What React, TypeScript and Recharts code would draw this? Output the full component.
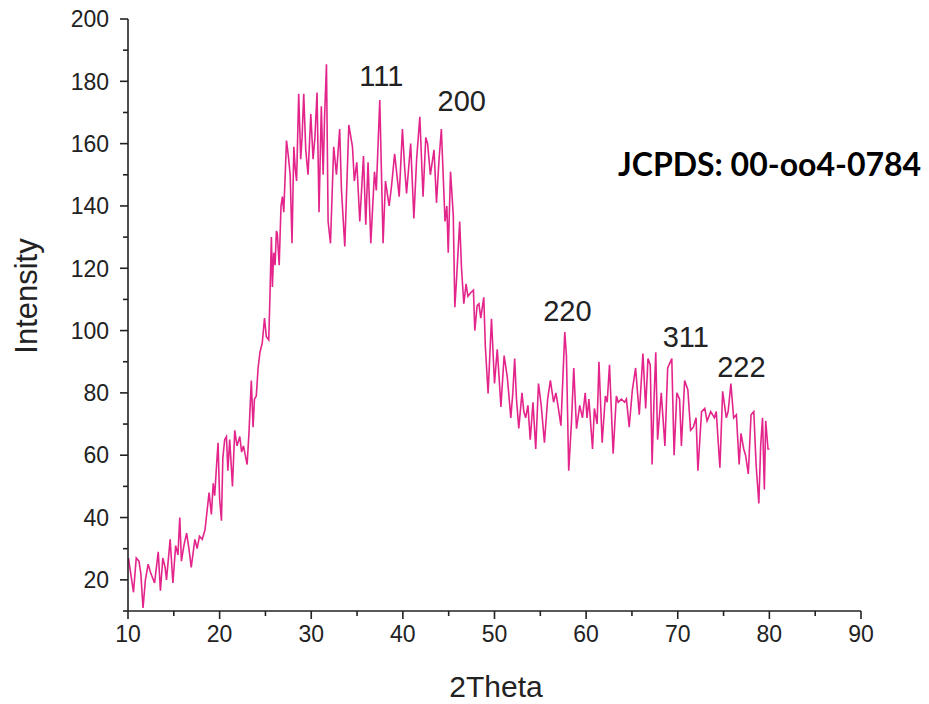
import React from 'react';
import { LineChart, Line, XAxis, YAxis, ReferenceDot, Customized } from 'recharts';

// XRD scan: diffraction angle (2θ, degrees) and measured intensity
const twoTheta = [
  10.05, 10.3, 10.6, 10.9, 11.2, 11.4, 11.64, 11.9, 12.2, 12.5, 12.9, 13.3, 13.54, 13.8, 14.05, 14.2, 14.6, 14.9,
  15.2, 15.45, 15.65, 15.83, 16.1, 16.4, 16.65, 16.9, 17.3, 17.55, 17.8, 18.1, 18.4, 18.85, 19.1, 19.3, 19.46,
  19.65, 19.83, 20.0, 20.2, 20.35, 20.55, 20.74, 20.9, 21.1, 21.4, 21.65, 21.9, 22.2, 22.4, 22.6, 22.8, 23.0,
  23.2, 23.46, 23.65, 23.8, 24.0, 24.2, 24.4, 24.65, 24.9, 25.1, 25.36, 25.5, 25.65, 25.76, 25.9, 26.05, 26.2,
  26.3, 26.5, 26.7, 26.85, 27.0, 27.3, 27.5, 27.7, 27.9, 28.1, 28.25, 28.4, 28.63, 28.85, 29.0, 29.18, 29.4,
  29.65, 29.95, 30.2, 30.4, 30.63, 30.85, 31.1, 31.3, 31.45, 31.66, 31.84, 32.1, 32.45, 32.75, 33.1, 33.3,
  33.66, 34.1, 34.5, 34.7, 34.97, 35.3, 35.7, 35.95, 36.2, 36.5, 36.9, 37.1, 37.48, 37.84, 38.1, 38.5, 38.75,
  39.1, 39.35, 39.6, 39.95, 40.2, 40.4, 40.85, 41.2, 41.5, 41.85, 42.2, 42.5, 42.7, 43.0, 43.4, 43.67, 43.95,
  44.2, 44.6, 44.8, 44.95, 45.2, 45.5, 45.67, 45.85, 46.2, 46.4, 46.65, 46.9, 47.1, 47.35, 47.7, 47.85, 48.1,
  48.3, 48.5, 48.83, 49.0, 49.3, 49.67, 50.0, 50.3, 50.5, 50.7, 51.05, 51.4, 51.78, 52.0, 52.2, 52.4, 52.65,
  53.0, 53.2, 53.4, 53.65, 53.9, 54.2, 54.5, 54.8, 55.1, 55.45, 55.8, 56.1, 56.3, 56.45, 56.7, 56.9, 57.25,
  57.67, 57.85, 58.1, 58.4, 58.65, 58.95, 59.3, 59.6, 59.9, 60.1, 60.3, 60.7, 60.9, 61.2, 61.4, 61.75, 62.1,
  62.3, 62.55, 62.95, 63.3, 63.5, 63.85, 64.2, 64.4, 64.7, 65.05, 65.4, 65.8, 66.2, 66.5, 66.75, 67.0, 67.2,
  67.4, 67.6, 67.8, 68.2, 68.6, 68.9, 69.35, 69.6, 69.9, 70.2, 70.4, 70.75, 71.1, 71.4, 71.7, 72.0, 72.2,
  72.6, 72.95, 73.2, 73.6, 74.0, 74.2, 74.6, 74.9, 75.3, 75.5, 75.8, 76.1, 76.4, 76.7, 76.9, 77.2, 77.4,
  77.7, 78.0, 78.3, 78.55, 78.85, 79.05, 79.25, 79.45, 79.6, 79.85, 80.0,
];

const intensity = [
  27, 22, 16, 27, 26, 22, 11, 20, 25, 22, 19, 29, 16.5, 27, 24, 20, 33, 19,
  31, 28, 40, 26, 31, 35, 30, 24, 33, 30, 34, 33, 36, 48, 41, 51, 47,
  56, 64, 46, 39, 59, 65, 66, 55, 65, 50, 68, 63, 66, 61, 63, 60, 57,
  67, 84, 69, 78, 79, 88, 93, 96, 104, 98, 97, 112, 130, 114, 125, 121, 132,
  131, 121, 140, 143, 138, 161, 156, 150, 128, 159, 152, 148, 176, 155, 162, 176, 158,
  150, 169.5, 155, 162, 176.4, 138, 172, 150, 168, 185.5, 135, 128, 159, 150, 164.7, 145,
  127, 166, 159, 148, 154, 135, 156, 134, 154, 128, 151, 145, 174, 128, 148, 140, 146,
  156.7, 150, 143, 164.7, 152, 144, 160, 136, 155, 168.6, 143, 162, 160, 150, 158, 141, 155,
  164.7, 135, 140, 125, 151, 137, 107.5, 116, 135, 120, 108.6, 115, 111, 112, 113, 100, 108,
  108.6, 104, 110.7, 95, 79.8, 103.8, 83, 94, 85, 75.5, 92, 85, 72, 80, 91, 78, 68.6,
  80, 74, 72, 76, 65, 77, 62, 83, 76, 64, 78, 84, 80, 77, 80, 76.5, 69.5,
  99.5, 92, 55, 70.6, 88, 68.5, 76, 72, 80, 72, 78, 62, 75, 70, 90, 64, 79,
  77, 89, 60.5, 79, 77, 78, 77, 78, 69, 81, 88, 73, 92.6, 75, 91, 89, 57,
  77, 93, 65, 80, 63, 88, 91, 60, 80, 78, 63, 84, 81, 68, 69, 72, 55,
  74, 75, 71, 74, 72, 74, 56, 80.5, 72, 74, 83, 72, 73, 57, 67, 62, 60,
  54, 73, 74, 57, 44.5, 63, 72, 49, 71, 62, 62,
];

// Axis ticks (major ones carry labels)
const xTicks = [10, 15, 20, 25, 30, 35, 40, 45, 50, 55, 60, 65, 70, 75, 80, 85, 90];
const yTicks = [10, 20, 30, 40, 50, 60, 70, 80, 90, 100, 110, 120, 130, 140, 150, 160, 170, 180, 190, 200];

// Miller-index annotations, anchored in data space
const peakNames = ['111', '200', '220', '311', '222'];
const peakLabelTheta = [37.64, 46.43, 57.95, 70.88, 76.94];
const peakLabelIntensity = [181.9, 173.7, 106.3, 98.0, 88.4];

const cardText = 'JCPDS: 00-oo4-0784';
const xTitle = '2Theta';
const yTitle = 'Intensity';

const data = twoTheta.map((t, i) => ({ t, v: intensity[i] }));

const AXIS = '#222';
const SANS = '"Liberation Sans", Arial, sans-serif';

const XTick = (props: any) => {
  const { x, y, payload } = props;
  const major = payload.value % 10 === 0;
  return (
    <g>
      <line x1={x} x2={x} y1={y} y2={y + (major ? 8 : 5)} stroke={AXIS} strokeWidth={1.6} />
      {major && (
        <text x={x} y={y + 31} textAnchor="middle" fontSize={23} fill={AXIS} fontFamily={SANS}>
          {payload.value}
        </text>
      )}
    </g>
  );
};

const YTick = (props: any) => {
  const { x, y, payload } = props;
  const major = payload.value % 20 === 0;
  return (
    <g>
      <line x1={x} x2={x - (major ? 8 : 5)} y1={y} y2={y} stroke={AXIS} strokeWidth={1.6} />
      {major && (
        <text x={x - 19} y={y} dy="0.36em" textAnchor="end" fontSize={23} fill={AXIS} fontFamily={SANS}>
          {payload.value}
        </text>
      )}
    </g>
  );
};

const Titles = () => (
  <g>
    <text x={496} y={697} textAnchor="middle" fontSize={30} fill={AXIS} fontFamily={SANS}>
      {xTitle}
    </text>
    <text
      x={37}
      y={296}
      transform="rotate(-90 37 296)"
      textAnchor="middle"
      fontSize={31}
      fill={AXIS}
      fontFamily={SANS}
    >
      {yTitle}
    </text>
    <text x={618} y={176} fontSize={32} fontWeight={700} fill="#000" fontFamily="Lato, 'Open Sans', sans-serif">
      {cardText}
    </text>
  </g>
);

export default function App() {
  return (
    <div style={{ position: 'absolute', left: 0, top: 0, width: 929, height: 704, background: '#fff' }}>
      <LineChart width={929} height={704} data={data} margin={{ top: 19, right: 68, bottom: 33, left: 28 }}>
        <XAxis
          type="number"
          dataKey="t"
          domain={[10, 90]}
          ticks={xTicks}
          interval={0}
          allowDataOverflow
          height={60}
          tickLine={false}
          tickSize={0}
          tickMargin={0}
          tick={<XTick />}
          axisLine={{ stroke: AXIS, strokeWidth: 1.6 }}
        />
        <YAxis
          type="number"
          domain={[10, 200]}
          ticks={yTicks}
          interval={0}
          allowDataOverflow
          width={100}
          tickLine={false}
          tickSize={0}
          tickMargin={0}
          tick={<YTick />}
          axisLine={{ stroke: AXIS, strokeWidth: 1.6 }}
        />
        <Line
          type="linear"
          dataKey="v"
          stroke="#e3258b"
          strokeWidth={1.6}
          dot={false}
          isAnimationActive={false}
        />
        {peakNames.map((name, i) => (
          <ReferenceDot
            key={name}
            x={peakLabelTheta[i]}
            y={peakLabelIntensity[i]}
            r={2}
            fill="none"
            stroke="none"
            label={{ value: name, position: 'center', fontSize: 29, fill: AXIS, fontFamily: SANS }}
          />
        ))}
        <Customized component={<Titles />} />
      </LineChart>
    </div>
  );
}
